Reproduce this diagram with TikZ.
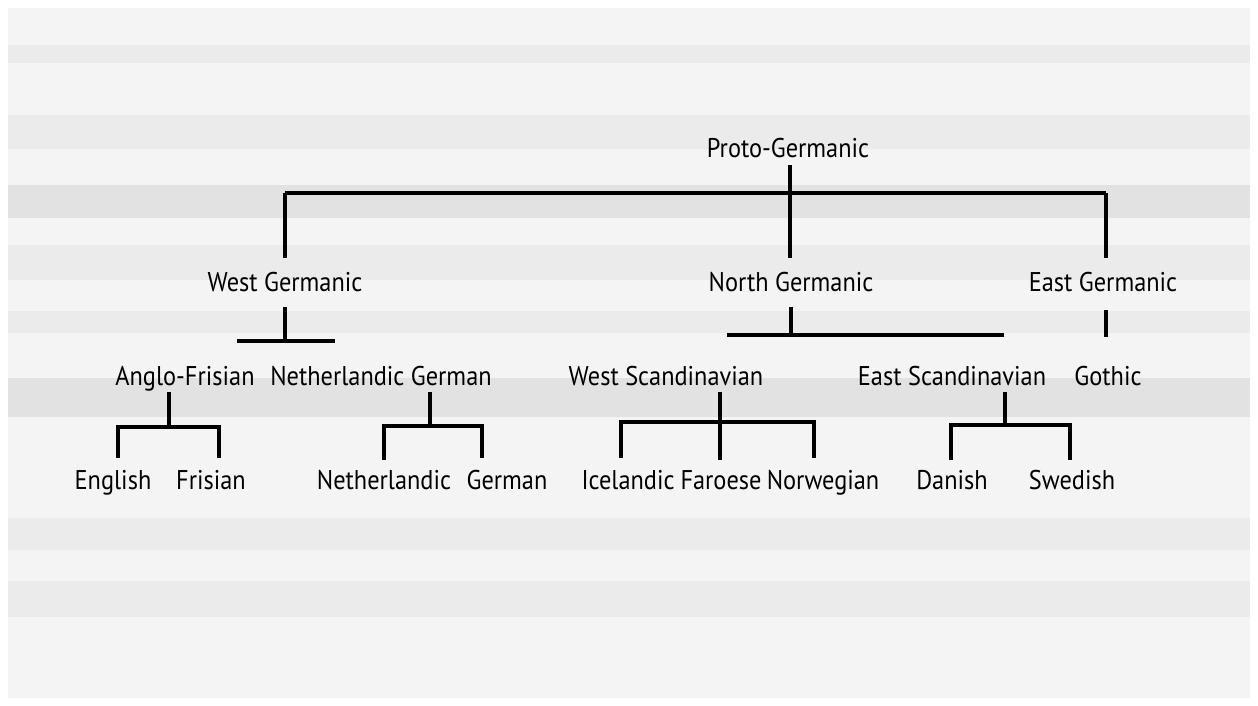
\documentclass[tikz,border=0pt]{standalone}
\usepackage{fontspec}
\setmainfont{PT Sans}[FakeStretch=0.9]
\definecolor{paper}{HTML}{F4F4F4}
\definecolor{bandlight}{HTML}{EBEBEB}
\definecolor{banddark}{HTML}{E2E2E2}
\begin{document}
\begin{tikzpicture}[x=0.02cm,y=-0.02cm,
  lang/.style={font=\fontsize{15.4}{18}\selectfont, inner sep=0pt, anchor=base},
  bar/.style={line width=1.8pt}]
  \fill[white] (0,0) rectangle (1258,706);
  \fill[paper] (8,8) rectangle (1250,698);
  \fill[bandlight] (8,45) rectangle (1250,63);
  \fill[bandlight] (8,115) rectangle (1250,149);
  \fill[banddark] (8,185) rectangle (1250,218);
  \fill[bandlight] (8,245) rectangle (1250,280);
  \fill[bandlight] (8,311) rectangle (1250,333);
  \fill[banddark] (8,378) rectangle (1250,417);
  \fill[bandlight] (8,518) rectangle (1250,550);
  \fill[bandlight] (8,581) rectangle (1250,617);

  \node[lang] (PG) at (788,157) {Proto-Germanic};
  \node[lang] (WG) at (285,291) {West Germanic};
  \node[lang] (NG) at (791,291) {North Germanic};
  \node[lang] (EG) at (1103,291) {East Germanic};
  \node[lang] (AF) at (185,385) {Anglo-Frisian};
  \node[lang] (NLG) at (381,385) {Netherlandic German};
  \node[lang] (WS) at (666,385) {West Scandinavian};
  \node[lang] (ES) at (952,385) {East Scandinavian};
  \node[lang] (Go) at (1108,385) {Gothic};
  \node[lang] (En) at (113,489) {English};
  \node[lang] (Fr) at (211,489) {Frisian};
  \node[lang] (Nl) at (384,489) {Netherlandic};
  \node[lang] (De) at (507,489) {German};
  \node[lang] (Is) at (628,489) {Icelandic};
  \node[lang] (Fo) at (721,489) {Faroese};
  \node[lang] (No) at (823,489) {Norwegian};
  \node[lang] (Da) at (952,489) {Danish};
  \node[lang] (Sv) at (1072,489) {Swedish};

  \coordinate (pg0) at (790,165);
  \coordinate (pgW) at (285,193);
  \coordinate (pgE) at (1106,193);
  \coordinate (wg0) at (285,258);
  \coordinate (ng0) at (790,258);
  \coordinate (eg0) at (1106,258);
  \draw[bar] (pgW) -- (pgE);
  \draw[bar] (pg0) -- (ng0);
  \draw[bar] (pgW) -- (wg0);
  \draw[bar] (pgE) -- (eg0);

  \coordinate (wg1) at (285,307);
  \coordinate (wg2) at (285,341);
  \coordinate (wgL) at (237,341);
  \coordinate (wgR) at (335,341);
  \draw[bar] (wg1) -- (wg2);
  \draw[bar] (wgL) -- (wgR);

  \coordinate (ng1) at (791,307);
  \coordinate (ng2) at (791,335);
  \coordinate (ngL) at (727,335);
  \coordinate (ngR) at (1004,335);
  \draw[bar] (ng1) -- (ng2);
  \draw[bar] (ngL) -- (ngR);

  \coordinate (eg1) at (1106,310);
  \coordinate (eg2) at (1106,337);
  \draw[bar] (eg1) -- (eg2);

  \coordinate (af0) at (169,392);
  \coordinate (afL) at (118,427);
  \coordinate (afR) at (219,427);
  \coordinate (en0) at (118,458);
  \coordinate (fr0) at (219,458);
  \draw[bar] (af0) -- (af0 |- afL);
  \draw[bar] (en0) -- (afL) -- (afR) -- (fr0);

  \coordinate (nlg0) at (430,392);
  \coordinate (nlgL) at (384,426);
  \coordinate (nlgR) at (482,426);
  \coordinate (nl0) at (384,460);
  \coordinate (de0) at (482,458);
  \draw[bar] (nlg0) -- (nlg0 |- nlgL);
  \draw[bar] (nl0) -- (nlgL) -- (nlgR) -- (de0);

  \coordinate (ws0) at (720,392);
  \coordinate (wsL) at (621,422);
  \coordinate (wsR) at (814,422);
  \coordinate (is0) at (621,458);
  \coordinate (fo0) at (720,460);
  \coordinate (no0) at (814,458);
  \draw[bar] (ws0) -- (fo0);
  \draw[bar] (is0) -- (wsL) -- (wsR) -- (no0);

  \coordinate (es0) at (1005,392);
  \coordinate (esL) at (951,425);
  \coordinate (esR) at (1070,425);
  \coordinate (da0) at (951,460);
  \coordinate (sv0) at (1070,460);
  \draw[bar] (es0) -- (es0 |- esL);
  \draw[bar] (da0) -- (esL) -- (esR) -- (sv0);
\end{tikzpicture}
\end{document}
